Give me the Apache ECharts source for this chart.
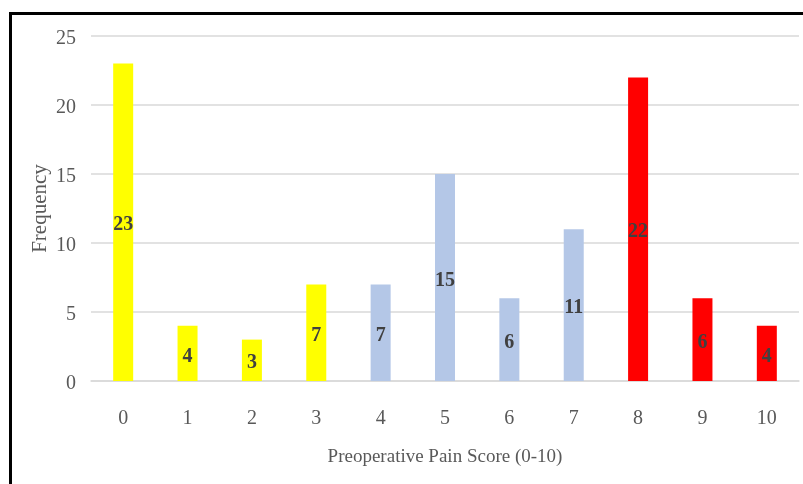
<!DOCTYPE html>
<html><head><meta charset="utf-8">
<script src="https://cdn.jsdelivr.net/npm/echarts@6/dist/echarts.min.js"></script>
<style>html,body{margin:0;padding:0;background:#fff}#c{width:803px;height:484px}</style>
</head><body><div id="c"></div>
<script>
const categories = ['0','1','2','3','4','5','6','7','8','9','10'];
const frequencies = [23, 4, 3, 7, 7, 15, 6, 11, 22, 6, 4];
const barColors = ['#FFFF00','#FFFF00','#FFFF00','#FFFF00','#B4C7E7','#B4C7E7','#B4C7E7','#B4C7E7','#FF0000','#FF0000','#FF0000'];
const yTicks = [0, 5, 10, 15, 20, 25];

const chart = echarts.init(document.getElementById('c'));
const serif = '"Liberation Serif", "Times New Roman", serif';
chart.setOption({
  animation: false,
  backgroundColor: '#fff',
  graphic: [
    {type:'line', shape:{x1:11, y1:13.5, x2:803, y2:13.5}, style:{stroke:'#000', lineWidth:3}},
    {type:'line', shape:{x1:10.5, y1:12, x2:10.5, y2:484}, style:{stroke:'#000', lineWidth:3}}
  ],
  grid: {left: 91, right: 4, top: 36, bottom: 103},
  xAxis: {
    type: 'category', data: categories,
    name: 'Preoperative Pain Score (0-10)', nameLocation: 'middle', nameGap: 67, nameMoveOverlap: false,
    nameTextStyle: {fontFamily: serif, fontSize: 19, color: '#595959'},
    axisLine: {lineStyle: {color: '#d9d9d9', width: 1.5}},
    axisTick: {show: false},
    axisLabel: {fontFamily: serif, fontSize: 20, color: '#595959', margin: 28}
  },
  yAxis: {
    type: 'value', min: yTicks[0], max: yTicks[yTicks.length-1], interval: 5,
    name: 'Frequency', nameLocation: 'middle', nameGap: 40, nameMoveOverlap: false,
    nameTextStyle: {fontFamily: serif, fontSize: 21, color: '#595959'},
    axisLine: {show: false}, axisTick: {show: false},
    axisLabel: {fontFamily: serif, fontSize: 20, color: '#595959', margin: 15,
      formatter: v => '{a|' + v + '}',
      rich: {a: {fontFamily: serif, fontSize: 20, color: '#595959', padding: [6, 0, 0, 0]}}},
    splitLine: {lineStyle: {color: '#d9d9d9', width: 1.5}}
  },
  series: [{
    type: 'bar', barWidth: 20,
    data: frequencies.map((v, i) => ({value: v, itemStyle: {color: barColors[i]}})),
    label: {show: true, position: 'inside', offset: [0, 3], fontFamily: serif, fontWeight: 'bold', fontSize: 20, color: '#404040'}
  }]
});
</script></body></html>
